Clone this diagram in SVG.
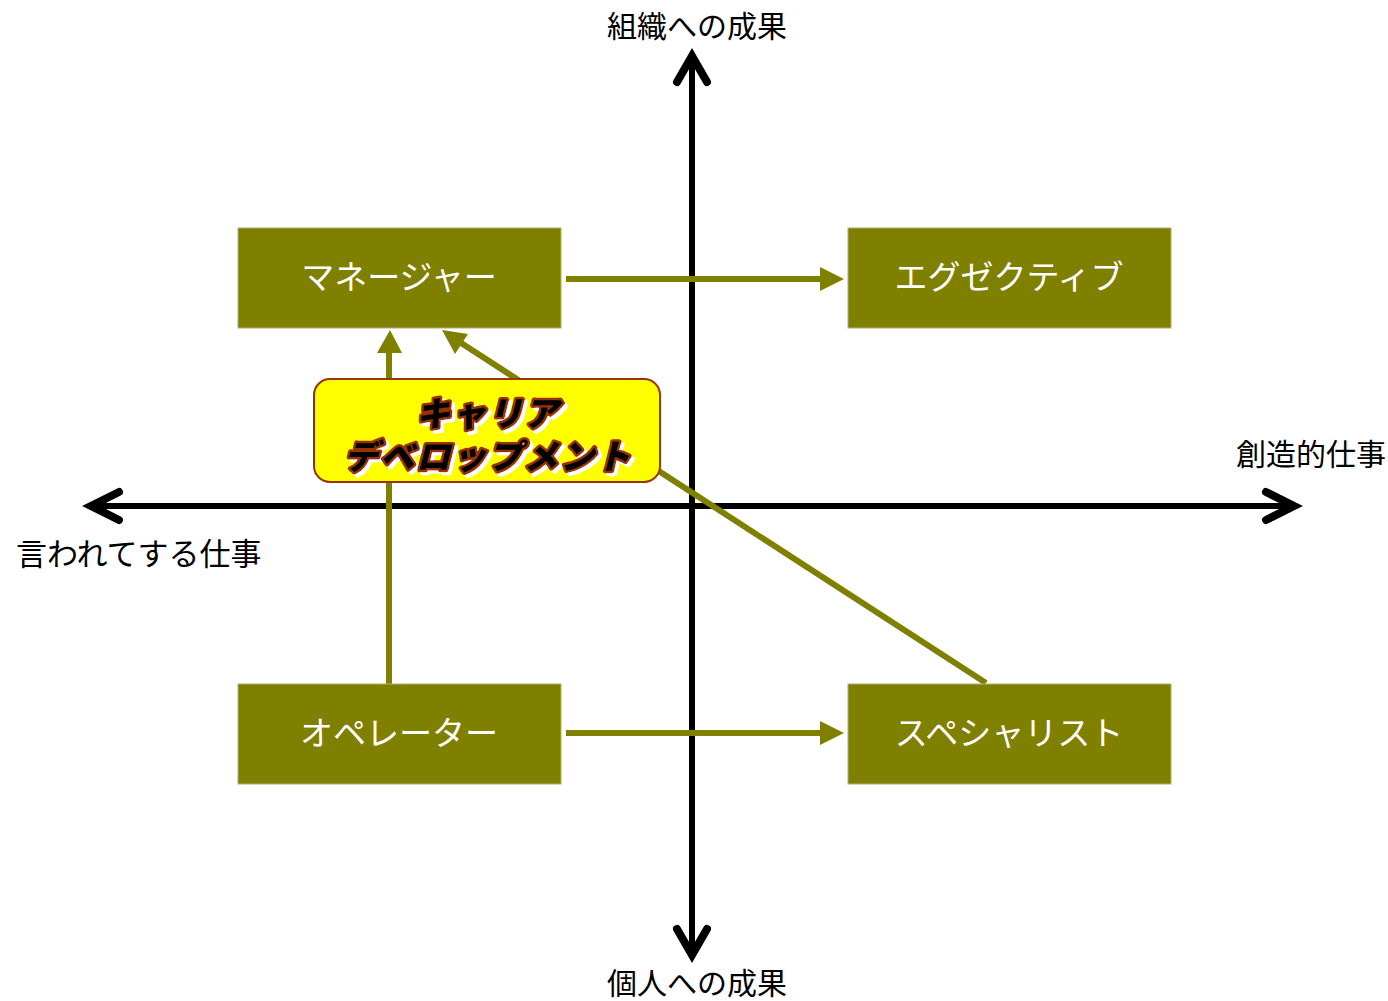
<svg xmlns="http://www.w3.org/2000/svg" width="1388" height="1001" viewBox="0 0 1388 1001">
<defs>
<filter id="wshadow" x="-10%" y="-20%" width="120%" height="140%">
<feDropShadow dx="3" dy="3" stdDeviation="0" flood-color="#ffffff" flood-opacity="1"/>
</filter>
</defs>
<style>
.axis{stroke:#000;stroke-width:6;fill:none}
.chev{stroke:#000;stroke-width:8;fill:none;stroke-linecap:round;stroke-linejoin:miter}
.lbl{font-family:"Noto Sans CJK JP","Noto Sans CJK SC",sans-serif;font-size:30px;fill:#000}
.box{fill:#808000;stroke:#b0b070;stroke-width:1}
.btxt{font-family:"Noto Sans CJK JP","Noto Sans CJK SC",sans-serif;font-size:33px;fill:#fff;text-anchor:middle}
.conn{stroke:#808000;stroke-width:6;fill:none}
.head{fill:#808000}
.cd{font-family:"Noto Sans CJK JP","Noto Sans CJK SC",sans-serif;font-size:34px;letter-spacing:2px;font-weight:900;font-style:italic;text-anchor:middle;fill:#000;stroke:#993300;stroke-width:5;stroke-linejoin:round;paint-order:stroke}
</style>
<rect width="1388" height="1001" fill="#fff"/>
<g id="axes">
<line class="axis" x1="692" y1="60" x2="692" y2="952"/>
<line class="axis" x1="94" y1="506" x2="1291" y2="506"/>
<path class="chev" d="M677,82 L692,56 L707,82"/>
<path class="chev" d="M677,929 L692,955 L707,929"/>
<path class="chev" d="M119,492 L91,506 L119,520"/>
<path class="chev" d="M1266,492 L1294,506 L1266,520"/>
</g>
<g id="axis-labels">
<text class="lbl" x="697" y="37" text-anchor="middle">組織への成果</text>
<text class="lbl" x="697" y="994" text-anchor="middle">個人への成果</text>
<text class="lbl" x="1236" y="465">創造的仕事</text>
<text class="lbl" x="16" y="565" style="font-size:31px">言われてする仕事</text>
</g>
<g id="connectors">
<line class="conn" x1="566" y1="279" x2="822" y2="279"/>
<polygon class="head" points="820,267 844,279 820,291"/>
<line class="conn" x1="566" y1="733" x2="822" y2="733"/>
<polygon class="head" points="820,721 844,733 820,745"/>
<line class="conn" x1="389" y1="684" x2="389" y2="350"/>
<polygon class="head" points="377,353 390,330 402,353"/>
<line class="conn" x1="986" y1="683" x2="458" y2="341"/>
<polygon class="head" points="442,330 468,334 455,354"/>
</g>
<g id="manager">
<rect class="box" x="238" y="228" width="323" height="100"/>
<text class="btxt" x="399" y="289">マネージャー</text>
</g>
<g id="executive">
<rect class="box" x="848" y="228" width="323" height="100"/>
<text class="btxt" x="1009" y="289">エグゼクティブ</text>
</g>
<g id="operator">
<rect class="box" x="238" y="684" width="323" height="100"/>
<text class="btxt" x="399" y="745">オペレーター</text>
</g>
<g id="specialist">
<rect class="box" x="848" y="684" width="323" height="100"/>
<text class="btxt" x="1009" y="745">スペシャリスト</text>
</g>
<g id="career">
<rect x="314" y="379" width="346" height="103" rx="16" fill="#ffff00" stroke="#993300" stroke-width="2"/>
<text class="cd" filter="url(#wshadow)"><tspan x="488" y="426">キャリア</tspan><tspan x="488" y="469">デベロップメント</tspan></text>
</g>
</svg>
